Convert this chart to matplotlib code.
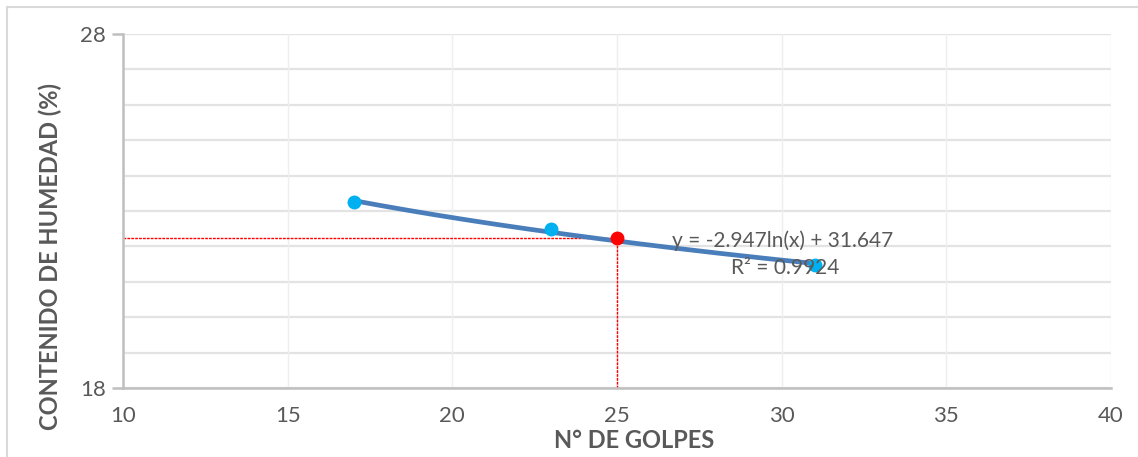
import numpy as np
import matplotlib
matplotlib.use("Agg")
import matplotlib.pyplot as plt
from matplotlib.patches import Rectangle

# Data
golpes = [17, 23, 31]
humedad = [23.25, 22.49, 21.47]
golpes_ref = 25
humedad_ref = 22.24
eq_label = "y = -2.947ln(x) + 31.647"
r2_label = "R² = 0.9924"
xticks = [10, 15, 20, 25, 30, 35, 40]
yticks_major = [18, 28]
yticks_minor = list(range(19, 28))

plt.rcParams['font.family'] = ['Lato', 'DejaVu Sans']

fig = plt.figure(figsize=(11.38, 4.57), dpi=100)
ax = fig.add_axes([123/1138, 1-388/457, (1111-123)/1138, (388-34)/457])

# outer chart border
fig.patches.append(Rectangle((7/1138, -0.05), 1.1, 1-7/457+0.05, transform=fig.transFigure,
                             fill=False, edgecolor='#D9D9D9', linewidth=1.5, zorder=0))

ax.set_xlim(10, 40)
ax.set_ylim(18, 28)
ax.set_xticks(xticks)
ax.set_yticks(yticks_major)
ax.set_yticks(yticks_minor, minor=True)

for y in yticks_minor + yticks_major:
    ax.axhline(y, color='#E3E3E3', linewidth=1.6, zorder=0)
for x in xticks:
    ax.axvline(x, color='#EEEEEE', linewidth=1.0, zorder=0)

# trendline (logarithmic fit)
coef = np.polyfit(np.log(golpes), humedad, 1)
xs = np.linspace(min(golpes), max(golpes), 200)
ax.plot(xs, np.polyval(coef, np.log(xs)), color='#4A7EBB', linewidth=3.4, zorder=3,
        solid_capstyle='round')

# red reference lines
ax.plot([10, golpes_ref], [humedad_ref, humedad_ref], color='#FF0000', linewidth=1.0,
        linestyle=(0, (2, 0.8)), zorder=2)
ax.plot([golpes_ref, golpes_ref], [18, humedad_ref], color='#FF0000', linewidth=1.0,
        linestyle=(0, (2, 0.8)), zorder=2, clip_on=False)

ax.plot(golpes, humedad, linestyle='none', marker='o', markersize=9,
        color='#00B0F0', zorder=4)
ax.plot([golpes_ref], [humedad_ref], linestyle='none', marker='o', markersize=9,
        color='#FF0000', zorder=4)

ax.text(783/1138, 1-241/457, eq_label, transform=fig.transFigure, ha='center', va='center',
        fontsize=15, color='#595959', zorder=5)
ax.text(785/1138, 1-268/457, r2_label, transform=fig.transFigure, ha='center', va='center',
        fontsize=15, color='#595959', zorder=5)

for s in ['top', 'right']:
    ax.spines[s].set_visible(False)
for s in ['left', 'bottom']:
    ax.spines[s].set_color('#BFBFBF')
    ax.spines[s].set_linewidth(1.8)

ax.tick_params(axis='y', which='major', length=8, width=1.8, color='#BFBFBF',
               labelsize=16, labelcolor='#595959', pad=4)
ax.tick_params(axis='y', which='minor', length=0)
ax.tick_params(axis='x', which='major', length=0, labelsize=16, labelcolor='#595959', pad=13)

fig.text(50/1138, 1-256/457, "CONTENIDO DE HUMEDAD (%)", rotation=90, ha='center', va='center',
         fontsize=17, fontweight='bold', color='#595959')
fig.text(634/1138, 1-440/457, "N° DE GOLPES", ha='center', va='center',
         fontsize=17, fontweight='bold', color='#595959')

fig.savefig("out.png", dpi=100)
